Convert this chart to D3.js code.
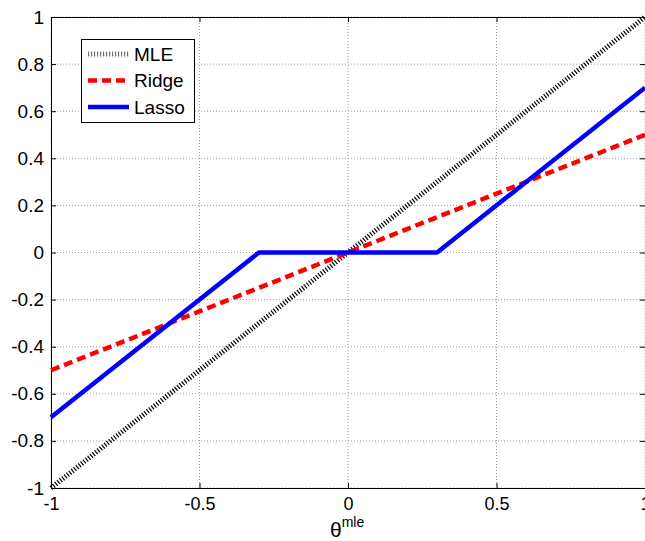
<!DOCTYPE html>
<html><head><meta charset="utf-8">
<script src="https://cdn.jsdelivr.net/npm/d3@7"></script>
<style>body{margin:0;background:#fff}svg{display:block}text{font-family:"Liberation Sans",Arial,sans-serif}</style>
</head><body><svg id="c" width="645" height="541"></svg>
<script>
const mleX = [-1, 1];
const mleY = [-1, 1];
const ridgeX = [-1, 1];
const ridgeY = [-0.5, 0.5];
const lassoX = [-1, -0.3, 0.3, 1];
const lassoY = [-0.7, 0, 0, 0.7];
const xTicks = [-1, -0.5, 0, 0.5, 1];
const yTicks = [-1, -0.8, -0.6, -0.4, -0.2, 0, 0.2, 0.4, 0.6, 0.8, 1];
const legendNames = ["MLE", "Ridge", "Lasso"];

const svg = d3.select("#c");
const L = 51, R = 645, T = 17, B = 488;
const x = d3.scaleLinear().domain([-1, 1]).range([L, R]);
const y = d3.scaleLinear().domain([-1, 1]).range([B, T]);

// grid
const g = svg.append("g");
g.selectAll(".gx").data(xTicks).join("line")
  .attr("x1", d => x(d)).attr("x2", d => x(d)).attr("y1", T).attr("y2", B)
  .attr("stroke", "#888").attr("stroke-width", 0.8).attr("stroke-dasharray", "1,2");
g.selectAll(".gy").data(yTicks).join("line")
  .attr("y1", d => y(d)).attr("y2", d => y(d)).attr("x1", L).attr("x2", R)
  .attr("stroke", "#888").attr("stroke-width", 0.8).attr("stroke-dasharray", "1,2");

// axes
const fmt = d => d === 0 ? "0" : String(d);
const xa = svg.append("g").attr("transform", `translate(0,${B})`)
  .call(d3.axisBottom(x).tickValues(xTicks).tickFormat(fmt).tickSize(-5).tickPadding(9));
const ya = svg.append("g").attr("transform", `translate(${L},0)`)
  .call(d3.axisLeft(y).tickValues(yTicks).tickFormat(fmt).tickSize(-5).tickPadding(7));
const xa2 = svg.append("g").attr("transform", `translate(0,${T})`)
  .call(d3.axisTop(x).tickValues(xTicks).tickFormat("").tickSize(-5));
const ya2 = svg.append("g").attr("transform", `translate(${R},0)`)
  .call(d3.axisRight(y).tickValues(yTicks).tickFormat("").tickSize(-5));
[xa, ya, xa2, ya2].forEach(a => {
  a.selectAll("path").attr("stroke", "#000").attr("stroke-width", 1);
  a.selectAll("line").attr("stroke", "#000");
  a.selectAll("text").attr("fill", "#000");
});
xa.selectAll("text").attr("font-size", 18).attr("dy", "0.71em");
ya.selectAll("text").attr("font-size", 19);

// lines
const line = d3.line().x(d => x(d[0])).y(d => y(d[1]));
svg.append("path").datum(mleX.map((v, i) => [v, mleY[i]])).attr("d", line)
  .attr("fill", "none").attr("stroke", "#000").attr("stroke-width", 5)
  .attr("stroke-dasharray", "1.2,1.8");
svg.append("path").datum(ridgeX.map((v, i) => [v, ridgeY[i]])).attr("d", line)
  .attr("fill", "none").attr("stroke", "#ff0000").attr("stroke-width", 4.5)
  .attr("stroke-dasharray", "9,5");
svg.append("path").datum(lassoX.map((v, i) => [v, lassoY[i]])).attr("d", line)
  .attr("fill", "none").attr("stroke", "#0000ff").attr("stroke-width", 4.5)
  .attr("stroke-linejoin", "round");

// x label
const xl = svg.append("text").attr("x", 330).attr("y", 537).attr("text-anchor", "start")
  .attr("font-size", 21);
xl.append("tspan").text("θ");
xl.append("tspan").attr("font-size", 14).attr("dy", -10).text("mle");

// legend
const lg = svg.append("g");
lg.append("rect").attr("x", 81.5).attr("y", 39.5).attr("width", 113).attr("height", 83)
  .attr("fill", "#fff").attr("stroke", "#000").attr("stroke-width", 1);
const styles = [
  {c: "#000", w: 5, da: "1.2,1.8", op: 0.55},
  {c: "#ff0000", w: 4.5, da: "9,5", op: 1},
  {c: "#0000ff", w: 4.5, da: null, op: 1}
];
legendNames.forEach((n, i) => {
  const yy = 54 + i * 26.5;
  lg.append("line").attr("x1", 88).attr("x2", 129).attr("y1", yy).attr("y2", yy)
    .attr("stroke", styles[i].c).attr("stroke-width", styles[i].w)
    .attr("stroke-dasharray", styles[i].da).attr("stroke-opacity", styles[i].op);
  lg.append("text").attr("x", 134).attr("y", yy).attr("dy", "0.36em")
    .attr("font-size", 19).text(n);
});
</script></body></html>
